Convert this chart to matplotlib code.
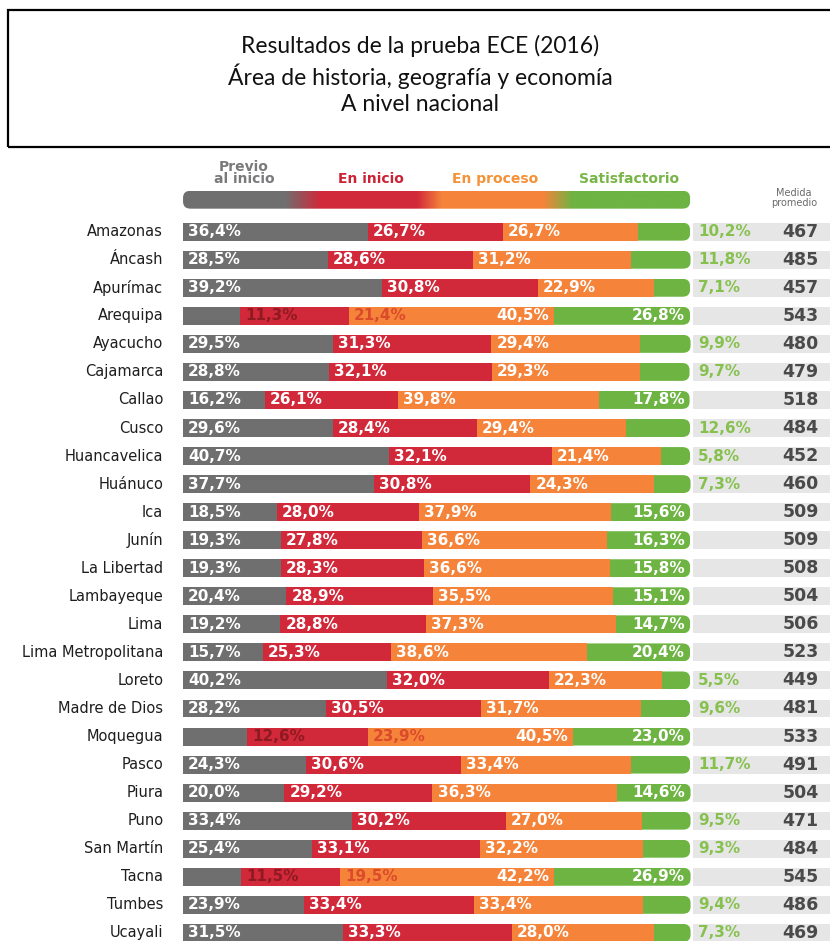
import numpy as np
import matplotlib
matplotlib.use("Agg")
import matplotlib.pyplot as plt
from matplotlib.colors import LinearSegmentedColormap
from matplotlib.patches import FancyBboxPatch, Rectangle

regions = ["Amazonas", "Áncash", "Apurímac", "Arequipa", "Ayacucho", "Cajamarca",
           "Callao", "Cusco", "Huancavelica", "Huánuco", "Ica", "Junín",
           "La Libertad", "Lambayeque", "Lima", "Lima Metropolitana", "Loreto",
           "Madre de Dios", "Moquegua", "Pasco", "Piura", "Puno", "San Martín",
           "Tacna", "Tumbes", "Ucayali"]
previo = [36.4, 28.5, 39.2, 11.3, 29.5, 28.8, 16.2, 29.6, 40.7, 37.7, 18.5, 19.3, 19.3,
          20.4, 19.2, 15.7, 40.2, 28.2, 12.6, 24.3, 20.0, 33.4, 25.4, 11.5, 23.9, 31.5]
inicio = [26.7, 28.6, 30.8, 21.4, 31.3, 32.1, 26.1, 28.4, 32.1, 30.8, 28.0, 27.8, 28.3,
          28.9, 28.8, 25.3, 32.0, 30.5, 23.9, 30.6, 29.2, 30.2, 33.1, 19.5, 33.4, 33.3]
proceso = [26.7, 31.2, 22.9, 40.5, 29.4, 29.3, 39.8, 29.4, 21.4, 24.3, 37.9, 36.6, 36.6,
           35.5, 37.3, 38.6, 22.3, 31.7, 40.5, 33.4, 36.3, 27.0, 32.2, 42.2, 33.4, 28.0]
satisf = [10.2, 11.8, 7.1, 26.8, 9.9, 9.7, 17.8, 12.6, 5.8, 7.3, 15.6, 16.3, 15.8,
          15.1, 14.7, 20.4, 5.5, 9.6, 23.0, 11.7, 14.6, 9.5, 9.3, 26.9, 9.4, 7.3]
medida = [467, 485, 457, 543, 480, 479, 518, 484, 452, 460, 509, 509, 508, 504, 506,
          523, 449, 481, 533, 491, 504, 471, 484, 545, 486, 469]
levels = ["Previo\nal inicio", "En inicio", "En proceso", "Satisfactorio"]
level_pos = [12, 37, 61.5, 88]

GRAY = "#6f6f70"
RED = "#d1283a"
ORANGE = "#f5843a"
GREEN = "#6db443"
colors = [GRAY, RED, ORANGE, GREEN]
legend_colors = ["#7a7a7c", "#cc2236", "#f39238", "#78b548"]
FONT = ["DejaVu Sans"]


def fmt(v):
    return f"{v:.1f}%".replace(".", ",")


fig = plt.figure(figsize=(8.3, 9.41), dpi=100)
ax = fig.add_axes([0, 0, 1, 1])
ax.set_xlim(-36.1, 127.6)
ax.set_ylim(25.29, -8.26)
ax.axis("off")

# title box
fig.patches.append(Rectangle((8 / 830, 1 - 147 / 941), 825 / 830, 137 / 941,
                             transform=fig.transFigure, fill=False,
                             edgecolor="black", linewidth=1.6))
fig.text(0.506, 1 - 75 / 941,
         "Resultados de la prueba ECE (2016)\nÁrea de historia, geografía y economía\nA nivel nacional",
         ha="center", va="center", fontsize=16.5, family="Lato",
         linespacing=1.3, color="#111111")

y = np.arange(len(regions))
h = 0.64
segments = [previo, inicio, proceso, satisf]
lefts = np.zeros(len(regions))
bars = []
for vals, c in zip(segments, colors):
    bars.append(ax.barh(y, vals, left=lefts, height=h, color=c, linewidth=0))
    lefts = lefts + np.array(vals)

# right grey band behind the mean score
ax.barh(y, 28.5, left=100.6, height=h, color="#e6e6e6", linewidth=0, zorder=0)

# rounded right end for the green segment
rx = 1.5
asp = 0.25 / rx
for i, rect in enumerate(bars[3]):
    clip = FancyBboxPatch((0, i - h / 2), lefts[i], h,
                          boxstyle=f"round,pad=0,rounding_size={rx}",
                          mutation_aspect=asp, transform=ax.transData)
    rect.set_clip_path(clip)

# header gradient bar
cmap = LinearSegmentedColormap.from_list(
    "lvl", [(0, GRAY), (0.2, GRAY), (0.27, RED), (0.46, RED),
            (0.51, ORANGE), (0.71, ORANGE), (0.77, GREEN), (1, GREEN)])
yh = -1.14
im = ax.imshow(np.linspace(0, 1, 512)[None, :], cmap=cmap, aspect="auto",
               extent=[0, 100, yh + h / 2, yh - h / 2], interpolation="bilinear")
im.set_clip_path(FancyBboxPatch((0, yh - h / 2), 100, h,
                                boxstyle=f"round,pad=0,rounding_size={rx}",
                                mutation_aspect=asp, transform=ax.transData))

for lab, xp, c in zip(levels, level_pos, legend_colors):
    ax.text(xp, -1.63, lab, ha="center", va="bottom", fontsize=10,
            fontweight="bold", color=c, family=FONT, linespacing=0.85)
ax.text(120.5, -1.2, "Medida\npromedio", ha="center", va="center", fontsize=7,
        color="#6a6a6a", family=FONT, linespacing=0.95)

pad = 1.0
for i in range(len(regions)):
    ax.text(-3.9, i, regions[i], ha="right", va="center", fontsize=10.5,
            color="#1e1e1e", family=FONT)
    ax.text(125.4, i, str(medida[i]), ha="right", va="center", fontsize=12.5,
            fontweight="bold", color="#4a4a4a", family=FONT)
    p, a, o, s = previo[i], inicio[i], proceso[i], satisf[i]
    kw = dict(va="center", fontsize=11, fontweight="bold", family=FONT)
    if p < 13:
        ax.text(p + pad, i, fmt(p), ha="left", color="#8e1a22", **kw)
        ax.text(p + a + pad, i, fmt(a), ha="left", color="#dc4a2c", **kw)
        ax.text(p + a + o - pad, i, fmt(o), ha="right", color="white", **kw)
    else:
        ax.text(pad, i, fmt(p), ha="left", color="white", **kw)
        ax.text(p + pad, i, fmt(a), ha="left", color="white", **kw)
        ax.text(p + a + pad, i, fmt(o), ha="left", color="white", **kw)
    if s >= 13:
        ax.text(100 - pad, i, fmt(s), ha="right", color="white", **kw)
    else:
        ax.text(101.6, i, fmt(s), ha="left", color="#86c14e", **kw)

fig.savefig("out.png", dpi=100)
